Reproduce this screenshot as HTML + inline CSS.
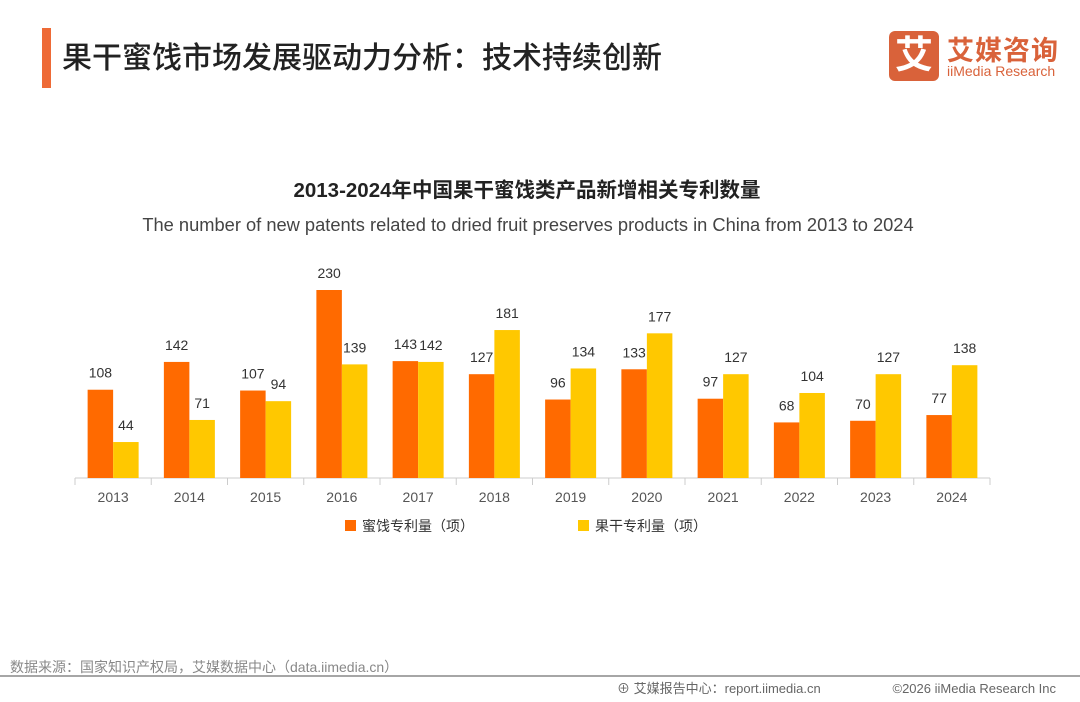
<!DOCTYPE html>
<html><head><meta charset="utf-8"><style>
body{margin:0;width:1080px;height:702px;background:#fff;overflow:hidden;position:relative;font-family:"Liberation Sans","Noto Sans CJK SC",sans-serif}
.abs{position:absolute}
</style></head><body>
<div class="abs" style="left:42px;top:28px;width:9px;height:60px;background:#ee6a36"></div>
<div class="abs" style="left:62px;top:33px;font-size:30px;color:#222;font-weight:500;white-space:nowrap">果干蜜饯市场发展驱动力分析：技术持续创新</div>
<div class="abs" style="left:889px;top:31px;width:170px;height:50px">
 <div style="position:absolute;left:0;top:0;width:50px;height:50px;background:#d9623a;border-radius:6px;color:#fff;font-size:38px;line-height:50px;text-align:center;font-weight:bold">艾</div>
 <div style="position:absolute;left:58px;top:-2px;font-size:27px;color:#d9623a;font-weight:bold;letter-spacing:1px">艾媒咨询</div>
 <div style="position:absolute;left:58px;top:32px;font-size:14px;color:#d9623a;white-space:nowrap">iiMedia Research</div>
</div>
<svg class="abs" style="left:0;top:0" width="1080" height="702">
<text x="527" y="197" text-anchor="middle" font-size="20.5" font-weight="bold" fill="#222">2013-2024年中国果干蜜饯类产品新增相关专利数量</text>
<text x="528" y="231" text-anchor="middle" font-size="18.3" fill="#444">The number of new patents related to dried fruit preserves products in China from 2013 to 2024</text>
<g id="plot"></g>
<rect x="345" y="520" width="11" height="11" fill="#ff6a00"/>
<text x="362" y="531" font-size="14" fill="#333">蜜饯专利量（项）</text>
<rect x="578" y="520" width="11" height="11" fill="#ffc800"/>
<text x="595" y="531" font-size="14" fill="#333">果干专利量（项）</text>
<text x="10" y="672" font-size="14" fill="#888">数据来源：国家知识产权局，艾媒数据中心（data.iimedia.cn）</text>
<line x1="0" y1="676" x2="1080" y2="676" stroke="#888" stroke-width="1.5"/>
<text x="617" y="693" font-size="13" fill="#666">⊕ 艾媒报告中心：report.iimedia.cn</text>
<text x="1056" y="693" text-anchor="end" font-size="13" fill="#666">©2026  iiMedia Research Inc</text>
</svg>
<script>
const years=["2013","2014","2015","2016","2017","2018","2019","2020","2021","2022","2023","2024"];
const preserves=[108,142,107,230,143,127,96,133,97,68,70,77];
const driedFruit=[44,71,94,139,142,181,134,177,127,104,127,138];
const g=document.getElementById('plot');const NS='http://www.w3.org/2000/svg';
const x0=75,x1=990,base=478,k=188/230,bw=25.5;
const step=(x1-x0)/years.length;
const xc=i=>x0+step*(i+0.5);const y=v=>base-v*k;
function el(t,a){const e=document.createElementNS(NS,t);for(const n in a)e.setAttribute(n,a[n]);g.appendChild(e);return e;}
let ax=el('line',{x1:x0,y1:base,x2:x1,y2:base,stroke:'#ccc'});


for(let i=0;i<=years.length;i++){const t=el('line',{x1:x0+step*i,y1:base,x2:x0+step*i,y2:base+7,stroke:'#ccc'});

}
years.forEach((yr,i)=>{
 const c=xc(i);
 const a=el('rect',{x:c-bw,y:y(preserves[i]),width:bw,height:preserves[i]*k,fill:'#ff6a00'});
 
 
 const b=el('rect',{x:c,y:y(driedFruit[i]),width:bw,height:driedFruit[i]*k,fill:'#ffc800'});
 
 
 const la=el('text',{x:c-bw/2,y:y(preserves[i])-12,'text-anchor':'middle','font-size':14,fill:'#333'});la.textContent=preserves[i];
 
 
 const lb=el('text',{x:c+bw/2,y:y(driedFruit[i])-12,'text-anchor':'middle','font-size':14,fill:'#333'});lb.textContent=driedFruit[i];
 
 
 const t=el('text',{x:c,y:502,'text-anchor':'middle','font-size':14,fill:'#555'});t.textContent=yr;
 
 
});
</script>
</body></html>
